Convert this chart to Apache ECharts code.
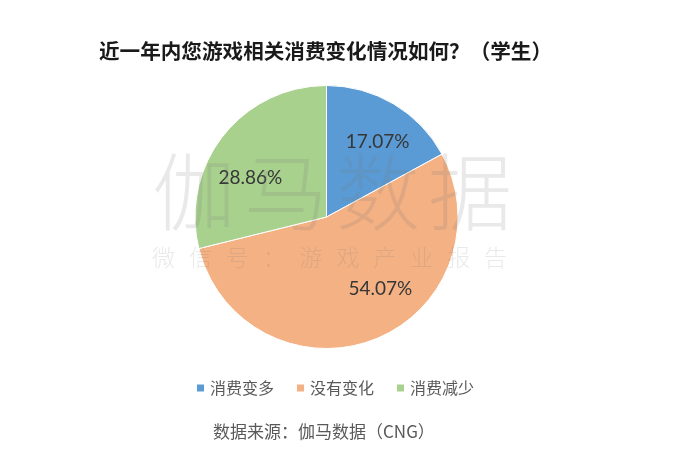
<!DOCTYPE html>
<html><head><meta charset="utf-8">
<script src="https://cdn.jsdelivr.net/npm/echarts@6/dist/echarts.min.js"></script>
<style>html,body{margin:0;padding:0;background:#fff}#c{width:676px;height:472px}</style>
</head><body><div id="c"></div>
<script>
const categories = ['消费变多', '没有变化', '消费减少'];
const values = [17.07, 54.07, 28.86];
const colors = ['#5B9BD5', '#F4B183', '#A9D18E'];
const labelOffsets = [[16, -16], [29, 8], [-22, 3]];
const titleText = '近一年内您游戏相关消费变化情况如何？（学生）';
const sourceText = '数据来源：伽马数据（CNG）';
const watermarkBig = ['伽', '马', '数', '据'];
const watermarkSmall = ['微', '信', '号', '：', '游', '戏', '产', '业', '报', '告'];

const chart = echarts.init(document.getElementById('c'));
const font = '"Noto Sans CJK SC", "Noto Sans", sans-serif';
const wmColor = 'rgba(120,120,120,0.16)';
const graphics = [
  { type: 'text', left: 213, top: 423, style: { text: sourceText, font: '17px ' + font, fill: '#595959' } }
];
watermarkBig.forEach((ch, i) => graphics.push({ type: 'text', z: 100, left: 152 + i * 92, top: 150, style: { text: ch, font: '300 84px ' + font, fill: wmColor } }));
watermarkSmall.forEach((ch, i) => graphics.push({ type: 'text', z: 100, left: 152 + i * 36.9, top: 246, style: { text: ch, font: '300 23px ' + font, fill: wmColor } }));

chart.setOption({
  animation: false,
  backgroundColor: '#fff',
  title: {
    text: titleText, left: 94, top: 36,
    textStyle: { fontFamily: font, fontSize: 20.6, fontWeight: 'bold', color: '#1a1a1a' }
  },
  legend: {
    top: 380, left: 195, padding: 0, itemWidth: 9, itemHeight: 9, itemGap: 21,
    icon: 'rect',
    textStyle: { fontFamily: font, fontSize: 16, color: '#595959' },
    data: categories
  },
  graphic: graphics,
  series: [{
    type: 'pie', center: [326.5, 217], radius: 131.5, startAngle: 90, clockwise: true,
    itemStyle: { borderColor: '#fff', borderWidth: 1 },
    label: { show: true, position: 'inside', fontFamily: 'Lato, "Noto Sans", sans-serif', fontSize: 19, color: '#363636',
      formatter: p => p.value.toFixed(2) + '%' },
    labelLine: { show: false },
    emphasis: { disabled: true },
    data: categories.map((c, i) => ({ name: c, value: values[i], itemStyle: { color: colors[i] }, label: { offset: labelOffsets[i] } }))
  }]
});
</script></body></html>
